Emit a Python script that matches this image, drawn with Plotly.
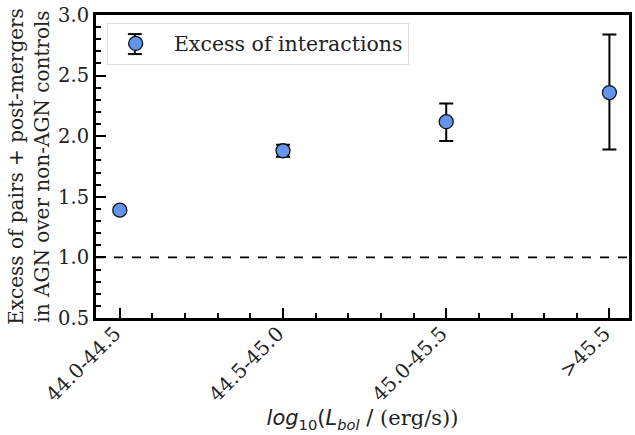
import plotly.graph_objects as go

categories = ["44.0-44.5", "44.5-45.0", "45.0-45.5", ">45.5"]
excess = [1.39, 1.88, 2.12, 2.36]
err_plus = [0.02, 0.05, 0.15, 0.48]
err_minus = [0.02, 0.05, 0.16, 0.47]
y_ticks = [0.5, 1.0, 1.5, 2.0, 2.5, 3.0]
y_ticklabels = ["0.5", "1.0", "1.5", "2.0", "2.5", "3.0"]
reference_level = 1.0

xpos = list(range(len(categories)))
SERIF = "DejaVu Serif"

fig = go.Figure()
fig.add_trace(go.Scatter(
    x=xpos, y=excess, mode="markers", name="\u2002Excess of interactions",
    marker=dict(size=14, color="#6495ED", line=dict(color="#111", width=1.3)),
    error_y=dict(type="data", symmetric=False, array=err_plus, arrayminus=err_minus,
                 color="black", thickness=2, width=7),
))
fig.add_hline(y=reference_level, line=dict(color="black", width=1.8, dash="dash"))

# error-bar glyph for the legend entry
lx, ly_t, ly_b, cw = 0.0728, 0.937, 0.871, 0.013
fig.add_shape(type="line", xref="paper", yref="paper", x0=lx, x1=lx, y0=ly_b, y1=ly_t, line=dict(color="black", width=2))
fig.add_shape(type="line", xref="paper", yref="paper", x0=lx - cw, x1=lx + cw, y0=ly_t, y1=ly_t, line=dict(color="black", width=2))
fig.add_shape(type="line", xref="paper", yref="paper", x0=lx - cw, x1=lx + cw, y0=ly_b, y1=ly_b, line=dict(color="black", width=2))

fig.update_layout(
    width=635, height=435,
    margin=dict(l=96, r=3, t=15, b=117),
    plot_bgcolor="white", paper_bgcolor="white",
    font=dict(family=SERIF, size=19, color="#222"),
    showlegend=True,
    legend=dict(x=0.02, y=0.975, xanchor="left", yanchor="top", itemwidth=46,
                bgcolor="rgba(0,0,0,0)", bordercolor="#dddddd", borderwidth=1,
                font=dict(family=SERIF, size=20.5, color="#222")),
)
fig.update_xaxes(
    range=[-0.146, 3.12], tickmode="array", tickvals=xpos, ticktext=categories,
    tickangle=-45, ticks="inside", ticklen=10, tickwidth=2, tickcolor="black",
    ticklabelstandoff=-7, ticklabelshift=-5,
    showline=True, linewidth=3, linecolor="black", mirror=True, showgrid=False, zeroline=False,
    tickfont=dict(family=SERIF, size=20, color="#222"),
    minor=dict(tickmode="linear", tick0=0, dtick=0.2, ticks="inside", ticklen=5, tickwidth=1.5, tickcolor="black", showgrid=False),
    title=dict(text="<span style='font-family:DejaVu Sans'><i>log</i><sub>10</sub>(<i>L</i><sub><i>bol</i></sub> / </span>(erg/s))",
               font=dict(family=SERIF, size=21, color="#222"), standoff=0),
)
fig.update_yaxes(
    range=[0.5, 3.0], tickmode="array", tickvals=y_ticks, ticktext=y_ticklabels,
    ticks="inside", ticklen=10, tickwidth=2, tickcolor="black",
    showline=True, linewidth=3, linecolor="black", mirror=True, showgrid=False, zeroline=False,
    tickfont=dict(family=SERIF, size=19.5, color="#222"),
    minor=dict(tickmode="linear", tick0=0.5, dtick=0.1, ticks="inside", ticklen=5, tickwidth=1.5, tickcolor="black", showgrid=False),
    title=dict(text="Excess of pairs + post-mergers<br>in AGN over non-AGN controls",
               font=dict(family=SERIF, size=20, color="#222"), standoff=4),
)

fig.write_html("out.html")
